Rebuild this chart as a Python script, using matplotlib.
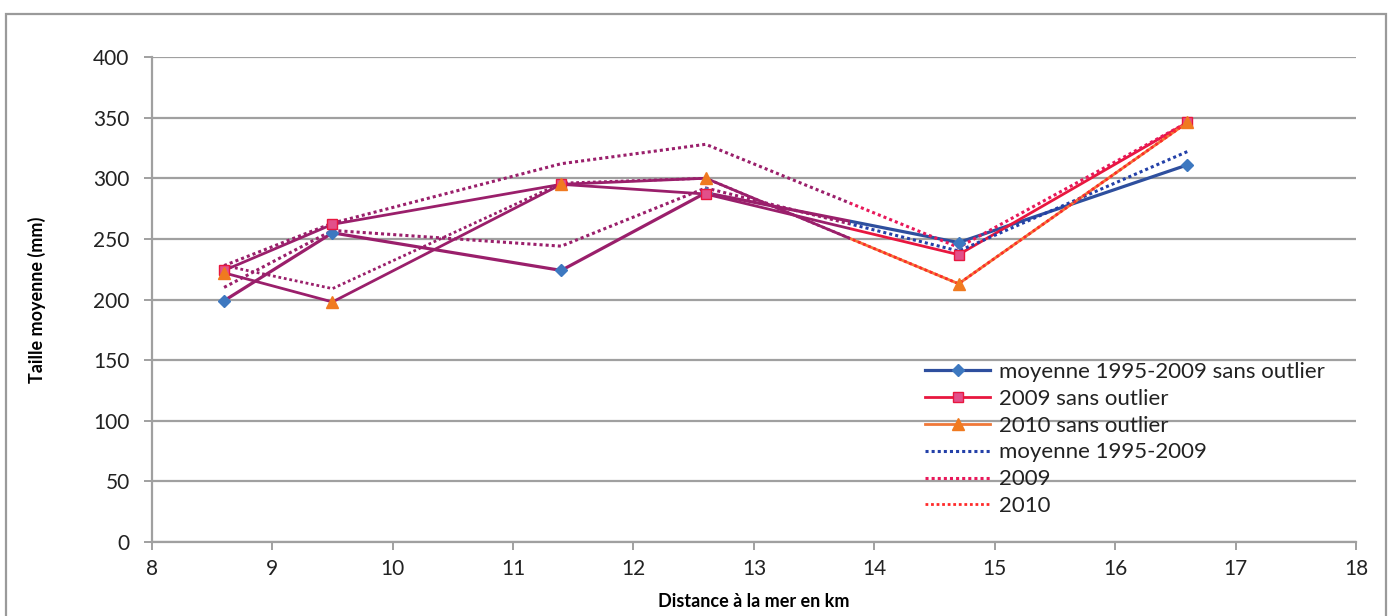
"""
Taille moyenne en fonction de la distance a la mer
"""
import matplotlib
matplotlib.use('Agg')
import matplotlib.pyplot as plt
import matplotlib.transforms as mtransforms
from matplotlib.patches import Rectangle
from matplotlib.lines import Line2D

# distances des stations (km)
distance = [8.6, 9.5, 11.4, 12.6, 14.7, 16.6]

moy_sans_outlier = [199, 255, 224, 288, 247, 311]
t2009_sans_outlier = [224, 262, 295, 287, 237, 346]
t2010_sans_outlier = [222, 198, 295, 300, 213, 346]
moy_1995_2009 = [210, 257, 244, 292, 240, 322]
t2009 = [228, 263, 312, 328, 243, 346]
t2010 = [228, 209, 296, 300, 213, 346]

labels = ['moyenne 1995-2009 sans outlier', '2009 sans outlier', '2010 sans outlier',
          'moyenne 1995-2009', '2009', '2010']

plt.rcParams['font.family'] = ['Lato', 'DejaVu Sans']

fig = plt.figure(figsize=(13.93, 6.16), dpi=100)
ax = fig.add_axes([0.109, 0.120, 0.8644, 0.7875])

# left part of the traces came out purple on the printed copy
purple = '#9a1f6b'
split_x = 13.8
blend = mtransforms.blended_transform_factory(ax.transData, ax.transAxes)


def trace(y, color, style, lw, marker=None, mcolor=None, medge=None, ms=7):
    left = Rectangle((7, 0), split_x - 7, 1, transform=blend)
    right = Rectangle((split_x, 0), 20 - split_x, 1, transform=blend)
    l1, = ax.plot(distance, y, color=purple, linestyle=style, linewidth=lw, zorder=3)
    l1.set_clip_path(left)
    l2, = ax.plot(distance, y, color=color, linestyle=style, linewidth=lw, zorder=3)
    l2.set_clip_path(right)
    if marker:
        ax.plot(distance, y, linestyle='none', marker=marker, markersize=ms,
                markerfacecolor=mcolor, markeredgecolor=medge, zorder=5)
    return Line2D([], [], color=color, linestyle=style, linewidth=lw, marker=marker,
                  markersize=ms, markerfacecolor=mcolor, markeredgecolor=medge)


dot = (0, (1, 1))
handles = [
    trace(moy_sans_outlier, '#2e4f9e', '-', 2.3, 'D', '#3d78c0', '#3d78c0', 6),
    trace(t2009_sans_outlier, '#e8173f', '-', 2.0, 's', '#e2508a', '#e8173f', 7),
    trace(t2010_sans_outlier, '#f07838', '-', 2.0, '^', '#f07a20', '#f07a20', 8),
    trace(moy_1995_2009, '#2340a8', dot, 2.2),
    trace(t2009, '#e8185a', dot, 2.2),
    trace(t2010, '#ff2a2a', dot, 2.0),
]

ax.set_xlim(8, 18)
ax.set_ylim(0, 400)
ax.set_xticks(range(8, 19))
ax.set_yticks(range(0, 401, 50))
ax.grid(axis='y', color='#a0a0a0', linewidth=1.6)
ax.set_axisbelow(True)
for side in ['top', 'right']:
    ax.spines[side].set_visible(False)
for side in ['left', 'bottom']:
    ax.spines[side].set_color('#a0a0a0')
    ax.spines[side].set_linewidth(1.6)
ax.tick_params(axis='both', colors='#a0a0a0', labelcolor='#222222',
               labelsize=15, length=6, width=1.4)
ax.tick_params(axis='y', pad=10)
ax.tick_params(axis='x', pad=6)

ax.set_xlabel('Distance à la mer en km', fontsize=13, fontweight='bold', labelpad=10)
ax.set_ylabel('Taille moyenne (mm)', fontsize=13, fontweight='bold', labelpad=34)

leg = ax.legend(handles, labels, loc='upper left', bbox_to_anchor=(0.635, 0.39),
                frameon=False, fontsize=16, handlelength=2.9, handletextpad=0.4,
                labelspacing=0.31, borderaxespad=0)
for t in leg.get_texts():
    t.set_color('#222222')

# outer frame of the chart
fig.patches.append(Rectangle((0.004, -0.01), 0.9907, 0.987, transform=fig.transFigure,
                             fill=False, edgecolor='#9a9a9a', linewidth=1.6))

fig.savefig('out.png', dpi=100, facecolor='white')
